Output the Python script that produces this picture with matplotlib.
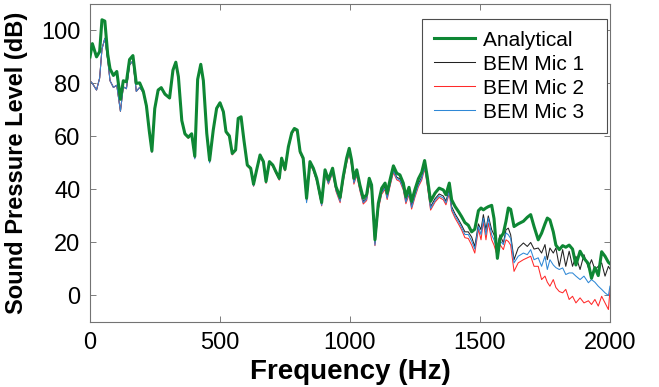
import matplotlib
matplotlib.use("Agg")
import matplotlib.pyplot as plt

plt.rcParams['font.family'] = ['Liberation Sans', 'DejaVu Sans']

# frequency grid (Hz) shared by all four curves
FREQ = [
    0, 9, 25, 37, 46, 57, 68, 77, 90, 103,
    117, 128, 140, 152, 165, 178, 191, 205, 217, 228,
    238, 249, 262, 274, 288, 306, 319, 330, 340, 353,
    365, 378, 391, 403, 414, 426, 436, 449, 460, 474,
    487, 500, 513, 523, 536, 547, 560, 570, 581, 592,
    605, 618, 629, 641, 654, 667, 677, 690, 703, 715,
    728, 737, 750, 763, 776, 786, 797, 808, 820, 833,
    846, 859, 872, 891, 904, 917, 933, 946, 962, 974,
    987, 997, 1006, 1015, 1026, 1038, 1051, 1064, 1074, 1083,
    1096, 1109, 1122, 1135, 1143, 1154, 1167, 1180, 1192, 1205,
    1215, 1227, 1237, 1250, 1263, 1276, 1287, 1297, 1310, 1327,
    1343, 1359, 1369, 1382, 1391, 1404, 1417, 1429, 1442, 1455,
    1468, 1480, 1494, 1504, 1513, 1523, 1532, 1545, 1554, 1567,
    1577, 1590, 1600, 1609, 1618, 1631, 1647, 1667, 1682, 1695,
    1708, 1724, 1737, 1750, 1759, 1769, 1782, 1792, 1805, 1818,
    1830, 1843, 1856, 1869, 1885, 1900, 1917, 1929, 1942, 1955,
    1968, 1981, 1994, 2000,
]

ANALYTICAL = [
    90, 95, 90, 92, 104, 103.5, 91, 85.5, 83, 84.5,
    74, 81, 80.6, 89, 90.5, 80, 80.2, 77, 71.5, 62,
    54.5, 70.5, 77.5, 78.4, 76, 74.5, 85, 88, 82.5, 66,
    61, 59.7, 61, 52.5, 81.5, 87.2, 81, 61.2, 51, 62.4,
    70.6, 72.7, 69.3, 61.8, 60.2, 53.6, 54.9, 66.8, 67.4, 58.6,
    49.2, 48, 42, 47.4, 53, 50.5, 43, 50.5, 49.2, 46.7,
    44.2, 51.8, 47.6, 56.1, 61.4, 63, 62.4, 54.3, 51.8, 36.7,
    50.5, 48, 44.2, 35.1, 47.4, 43.6, 48, 41.1, 37, 44.9,
    51.8, 55.5, 51.1, 44.2, 47.4, 41.7, 36.7, 38, 44.2, 41.7,
    21, 34.8, 40.5, 42.4, 38.6, 43.6, 48.9, 46.1, 45.5, 42.4,
    37.3, 40.8, 35.5, 40, 44, 46.5, 50.9, 44.9, 35.5, 38.6,
    40.5, 39.8, 38, 42.4, 36.1, 33.6, 31.7, 29.8, 27.5, 26.5,
    24, 25, 32, 33, 32.3, 33, 33.5, 34, 29, 14,
    21.5, 23.5, 28, 33, 32.5, 26, 27, 28, 29.5, 30.5,
    26, 21, 23.5, 27, 29.2, 28.5, 24, 19, 17.3, 18.8,
    18.2, 19, 17.5, 11.5, 16.7, 14, 12, 6.5, 10.5, 7.5,
    16.5, 14.8, 12.5, 12,
]

BEM_MIC1 = [
    81, 80, 77.5, 82, 93, 97, 89, 81, 78.5, 79.3,
    69.5, 78.7, 78, 87, 88.5, 77, 78.5, 76.5, 71, 61.5,
    54.3, 70.3, 77.3, 78.2, 75.8, 74.3, 84.8, 87.8, 82.3, 65.8,
    60.8, 59.5, 60.8, 52, 81.3, 87, 80.8, 61, 50.5, 62.2,
    70.4, 72.5, 69.1, 61.6, 60, 53.3, 54.7, 66.6, 67.2, 58.4,
    49, 47.8, 41.5, 47.2, 52.8, 50.2, 42.6, 50.2, 49, 46.4,
    43.8, 51.5, 47.3, 55.8, 61.1, 62.7, 62.1, 54, 51.4, 36,
    50, 47.5, 43.5, 34.5, 46.5, 42.8, 47, 40.2, 36, 44,
    50.8, 54.5, 50, 43, 46.3, 40.5, 35.5, 36.8, 43, 40.4,
    19.8, 33.5, 39.2, 41, 37.2, 42.2, 47.5, 44.6, 44, 40.8,
    35.7, 39.2, 33.8, 38.3, 42.2, 44.7, 49, 43, 33.5, 36.5,
    38.3, 37.5, 35.6, 40, 33.5, 30.8, 28.7, 26.6, 24, 24,
    22, 18.5, 27, 24.8, 30.5, 24.8, 30, 24.8, 22.9, 18.5,
    22.9, 19.8, 24.8, 25.4, 22.9, 13.5, 17.9, 19.8, 18.5, 20,
    17.5, 17.9, 16, 19.2, 13.5, 17.9, 16, 17.9, 11, 17.3,
    11, 16.7, 11, 14.8, 9.8, 15.4, 10.4, 13.5, 9.8, 11,
    12.3, 7.3, 11, 10,
]

BEM_MIC2 = [
    81, 80, 77.5, 82, 93, 97, 89, 81, 78.5, 79.3,
    69.5, 78.7, 78, 87, 88.5, 77, 78.5, 76.5, 71, 61.5,
    54, 70.2, 77.2, 78.1, 75.7, 74.2, 84.7, 87.7, 82.2, 65.6,
    60.6, 59.3, 60.6, 51.8, 81.2, 86.9, 80.6, 60.8, 50.3, 62,
    70.2, 72.3, 68.9, 61.4, 59.8, 53, 54.5, 66.4, 67, 58.2,
    48.8, 47.5, 41.2, 47, 52.5, 49.9, 42.3, 49.9, 48.7, 46.1,
    43.5, 51.2, 47, 55.5, 60.8, 62.4, 61.8, 53.6, 51, 35.5,
    49.5, 47, 43, 33.8, 45.8, 42, 46.2, 39.3, 35, 43,
    49.8, 53.5, 49, 42, 45.3, 39.5, 34.5, 35.8, 42, 39.4,
    18.8, 32.5, 38.2, 40, 36.2, 41.2, 46.4, 43.6, 43, 39.8,
    34.6, 38, 32.6, 37.1, 41, 43.5, 47.8, 41.7, 32.2, 35.2,
    37, 36.1, 34.2, 38.5, 32, 29.2, 27, 24.8, 21.8, 21.5,
    19, 16, 25, 21, 28, 21, 27.3, 21, 19, 14.8,
    19.2, 17.3, 21, 20.4, 19, 9.1, 12.3, 13.5, 14.2, 14.8,
    11, 11, 6, 7.3, 5, 3.5, 6, 3, 1.5, 1,
    2.3, -1.5, -0.3, -2.8, -0.9, -2.8, -2, -3.4, -1.5, -4,
    -0.3, -2.8, -5.3, 2,
]

BEM_MIC3 = [
    81, 80, 77.5, 82, 93, 97, 89, 81, 78.5, 79.3,
    69.5, 78.7, 78, 87, 88.5, 77, 78.5, 76.5, 71, 61.5,
    54, 70.3, 77.3, 78.2, 75.8, 74.3, 84.8, 87.8, 82.3, 65.8,
    60.8, 59.5, 60.8, 51.5, 81.3, 87, 80.8, 61, 50, 62.2,
    70.4, 72.5, 69.1, 61.6, 60, 53.2, 54.7, 66.6, 67.2, 58.4,
    49, 47.8, 41.3, 47.2, 52.8, 50.2, 42.5, 50.2, 49, 46.4,
    43.7, 51.5, 47.3, 55.8, 61.1, 62.7, 62.1, 54, 51.4, 35,
    49.8, 47.2, 43.2, 34, 46, 42.3, 46.5, 39.7, 35.5, 43.4,
    50.3, 54, 49.5, 42.5, 45.8, 40, 35, 36.3, 42.5, 39.9,
    19, 33, 38.7, 40.5, 36.7, 41.7, 47, 44.1, 43.5, 40.3,
    35.2, 38.6, 33.2, 37.7, 41.6, 44.1, 48.4, 42.3, 32.8, 35.8,
    37.6, 36.8, 34.9, 39.2, 32.7, 30, 27.9, 25.7, 23, 23,
    20.5, 17.5, 26, 23, 29.2, 22.9, 29.2, 22.9, 21, 16.7,
    20.6, 19.2, 23.6, 22.9, 21.5, 12.3, 14.8, 16, 15.4, 17.3,
    13.5, 14.2, 11, 14.8, 9.8, 13.5, 11.5, 10.5, 9.8, 10.4,
    7.9, 8.5, 8.5, 7.3, 6, 7.3, 4.8, 6, 5, 3.5,
    2.3, 1, 0, 3.5,
]

LABELS = ["Analytical", "BEM Mic 1", "BEM Mic 2", "BEM Mic 3"]
X_TICKS = [0, 500, 1000, 1500, 2000]
Y_TICKS = [0, 20, 40, 60, 80, 100]

fig = plt.figure(figsize=(6.59, 3.87), dpi=100)
ax = fig.add_axes([0.1366, 0.168, 0.789, 0.822])

l1, = ax.plot(FREQ, BEM_MIC1, color='#222222', lw=0.75, zorder=2)
l2, = ax.plot(FREQ, BEM_MIC2, color='#ff2a2a', lw=0.75, zorder=2)
l3, = ax.plot(FREQ, BEM_MIC3, color='#2f88d6', lw=0.75, zorder=2)
l0, = ax.plot(FREQ, ANALYTICAL, color='#0e8734', lw=2.2, zorder=3)

ax.set_xlim(0, 2000)
ax.set_ylim(-10, 110)
ax.set_xticks(X_TICKS)
ax.set_yticks(Y_TICKS)
ax.tick_params(direction='in', top=True, right=True, length=4, width=0.6,
               colors='0.4', labelcolor='black', labelsize=17, pad=7)
for s in ax.spines.values():
    s.set_color('0.45')
    s.set_linewidth(0.8)

ax.set_xlabel("Frequency (Hz)", fontsize=20, fontweight='bold', labelpad=4)
ax.set_ylabel("Sound Pressure Level (dB)", fontsize=17, fontweight='bold', labelpad=9)

# trailing spaces give the wider right margin of the original legend box
leg = ax.legend([l0, l1, l2, l3], [s + "  " for s in LABELS],
                loc='upper right', bbox_to_anchor=(0.994, 0.952), fontsize=15,
                frameon=True, fancybox=False, framealpha=1, edgecolor='0.3',
                handlelength=2.0, handletextpad=0.35, labelspacing=0.24,
                borderpad=0.55, borderaxespad=0)
leg.get_frame().set_linewidth(0.8)

fig.savefig("out.png", dpi=100)
